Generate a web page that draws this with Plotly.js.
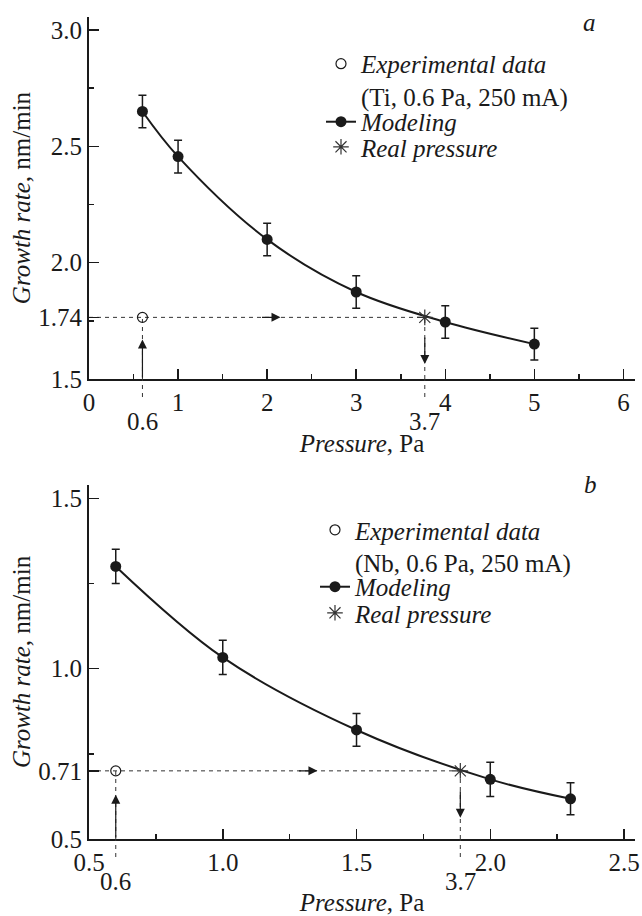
<!DOCTYPE html>
<html>
<head>
<meta charset="utf-8">
<script src="https://cdn.plot.ly/plotly-3.0.1.min.js"></script>
<style>html,body{margin:0;padding:0;background:#fff;}#chart{width:642px;height:916px;}</style>
</head>
<body>
<div id="chart"></div>
<script>
// ---------- Panel a (Ti) ----------
const pressureA = [0.6, 1, 2, 3, 4, 5];
const rateA = [2.65, 2.456, 2.10, 1.874, 1.745, 1.650];
const errA = [0.07, 0.07, 0.07, 0.07, 0.07, 0.068];
const expPressureA = [0.6];
const expRateA = [1.765];
const realPressureA = [3.77];
const realRateA = [1.765];
const yTickValsA = [1.5, 1.765, 2.0, 2.5, 3.0];
const yTickTextA = ['1.5', '1.74', '2.0', '2.5', '3.0'];
const xTickValsA = [0, 1, 2, 3, 4, 5, 6];
const xTickTextA = ['0', '1', '2', '3', '4', '5', '6'];
const markLabelsA = ['0.6', '3.7'];
const arrowTipsA = {up: [0.6, 1.67], right: [2.15, 1.765], down: [3.77, 1.565]};
const legendTextA = ['<i>Experimental data</i><br>(Ti, 0.6 Pa, 250 mA)', '<i>Modeling</i>', '<i>Real pressure</i>'];

// ---------- Panel b (Nb) ----------
const pressureB = [0.6, 1.0, 1.5, 2.0, 2.3];
const rateB = [1.30, 1.033, 0.82, 0.675, 0.618];
const errB = [0.05, 0.05, 0.048, 0.05, 0.047];
const expPressureB = [0.6];
const expRateB = [0.70];
const realPressureB = [1.888];
const realRateB = [0.70];
const yTickValsB = [0.5, 0.70, 1.0, 1.5];
const yTickTextB = ['0.5', '0.71', '1.0', '1.5'];
const xTickValsB = [0.5, 1.0, 1.5, 2.0, 2.5];
const xTickTextB = ['0.5', '1.0', '1.5', '2.0', '2.5'];
const markLabelsB = ['0.6', '3.7'];
const arrowTipsB = {up: [0.6, 0.63], right: [1.354, 0.70], down: [1.888, 0.562]};
const legendTextB = ['<i>Experimental data</i><br>(Nb, 0.6 Pa, 250 mA)', '<i>Modeling</i>', '<i>Real pressure</i>'];

const rangeXA = [0, 6.13], rangeYA = [1.5, 3.056];
const rangeXB = [0.5, 2.541], rangeYB = [0.5, 1.539];

const INK = '#1a1a1a';
const FONT = 'Liberation Serif, Times New Roman, serif';
const FS = 25;

function panelTraces(xs, ys, errs, ex, ey, rx, ry, xa, ya, names, legs) {
  return [
    {x: xs, y: ys, xaxis: xa, yaxis: ya, type: 'scatter', mode: 'lines+markers',
     name: names[1], legend: legs[1],
     line: {color: INK, width: 2, shape: 'spline', smoothing: 1},
     marker: {color: INK, size: 11, symbol: 'circle'},
     error_y: {type: 'data', array: errs, visible: true, color: INK, thickness: 1.5, width: 4}},
    {x: ex, y: ey, xaxis: xa, yaxis: ya, type: 'scatter', mode: 'markers',
     name: names[0], legend: legs[0],
     marker: {color: INK, size: 10, symbol: 'circle-open', line: {color: INK, width: 1.2}}},
    {x: rx, y: ry, xaxis: xa, yaxis: ya, type: 'scatter', mode: 'markers',
     name: names[2], legend: legs[2],
     marker: {color: '#333', size: 13, symbol: 'asterisk-open', line: {color: '#333', width: 1.2}}}
  ];
}

const data = [].concat(
  panelTraces(pressureA, rateA, errA, expPressureA, expRateA, realPressureA, realRateA, 'x', 'y', legendTextA, ['legend', 'legend2', 'legend3']),
  panelTraces(pressureB, rateB, errB, expPressureB, expRateB, realPressureB, realRateB, 'x2', 'y2', legendTextB, ['legend4', 'legend5', 'legend6'])
);

function dashedShapes(xr, yr, yrDom, x0, ex, rx, lvl, ymin) {
  const dash = {color: '#333', width: 1, dash: '4px,4px'};
  return [
    {type: 'line', xref: xr, yref: yr, x0: x0, x1: rx, y0: lvl, y1: lvl, line: dash, layer: 'below'},
    {type: 'line', xref: xr, yref: yr, x0: ex, x1: ex, y0: ymin, y1: lvl, line: dash, layer: 'below'},
    {type: 'line', xref: xr, yref: yr, x0: rx, x1: rx, y0: ymin, y1: lvl, line: dash, layer: 'below'},
    {type: 'line', xref: xr, yref: yrDom, ysizemode: 'pixel', yanchor: 0, x0: ex, x1: ex, y0: -18, y1: 0, line: dash},
    {type: 'line', xref: xr, yref: yrDom, ysizemode: 'pixel', yanchor: 0, x0: rx, x1: rx, y0: -18, y1: 0, line: dash}
  ];
}

const shapes = [].concat(
  dashedShapes('x', 'y', 'y domain', rangeXA[0], expPressureA[0], realPressureA[0], expRateA[0], rangeYA[0]),
  dashedShapes('x2', 'y2', 'y2 domain', rangeXB[0], expPressureB[0], realPressureB[0], expRateB[0], rangeYB[0])
);

function arrowAnns(xr, yr, tips, ymin) {
  const base = {xref: xr, yref: yr, text: '', showarrow: true, arrowhead: 2, arrowsize: 1.5,
                arrowwidth: 1.2, arrowcolor: INK, standoff: 0};
  return [
    Object.assign({}, base, {x: tips.up[0], y: tips.up[1], axref: xr, ayref: yr, ax: tips.up[0], ay: ymin}),
    Object.assign({}, base, {x: tips.right[0], y: tips.right[1], ax: -20, ay: 0}),
    Object.assign({}, base, {x: tips.down[0], y: tips.down[1], ax: 0, ay: -28})
  ];
}

function markLabelAnns(xr, yrDom, xs, labels, shift) {
  return xs.map((xv, i) => ({xref: xr, yref: yrDom, x: xv, y: 0, yshift: shift, text: labels[i],
    showarrow: false, xanchor: 'center', yanchor: 'middle', font: {family: FONT, size: FS, color: INK}}));
}

const annotations = [].concat(
  arrowAnns('x', 'y', arrowTipsA, rangeYA[0]),
  arrowAnns('x2', 'y2', arrowTipsB, rangeYB[0]),
  markLabelAnns('x', 'y domain', [expPressureA[0], realPressureA[0]], markLabelsA, -42),
  markLabelAnns('x2', 'y2 domain', [expPressureB[0], realPressureB[0]], markLabelsB, -42),
  [
    {xref: 'paper', yref: 'paper', x: 0.9158, y: 0.9939, text: '<i>a</i>', showarrow: false,
     xanchor: 'center', yanchor: 'middle', font: {family: FONT, size: FS, color: INK}},
    {xref: 'paper', yref: 'paper', x: 0.919, y: 0.4307, text: '<i>b</i>', showarrow: false,
     xanchor: 'center', yanchor: 'middle', font: {family: FONT, size: FS, color: INK}}
  ]
);

function xAxis(range, tv, tt, minorDtick, anchor, standoff) {
  return {range: range, anchor: anchor, domain: [0, 1], showline: true, linecolor: INK, linewidth: 2,
    zeroline: false, showgrid: false, ticks: 'inside', ticklen: 10, tickwidth: 1.5, tickcolor: INK,
    tickmode: 'array', tickvals: tv, ticktext: tt, tickfont: {family: FONT, size: FS, color: INK},
    minor: {ticks: 'inside', ticklen: 5, tickwidth: 1.5, tickcolor: INK, tickmode: 'linear', tick0: range[0], dtick: minorDtick, showgrid: false},
    title: {text: '<i>Pressure</i>, Pa', font: {family: FONT, size: FS, color: INK}, standoff: standoff}};
}
function yAxis(range, tv, tt, minorDtick, anchor, domain) {
  return {range: range, anchor: anchor, domain: domain, showline: true, linecolor: INK, linewidth: 2,
    zeroline: false, showgrid: false, ticks: 'inside', ticklen: 10, tickwidth: 1.5, tickcolor: INK,
    tickmode: 'array', tickvals: tv, ticktext: tt, tickfont: {family: FONT, size: FS, color: INK},
    minor: {ticks: 'inside', ticklen: 5, tickwidth: 1.5, tickcolor: INK, tickmode: 'linear', tick0: range[0], dtick: minorDtick, showgrid: false},
    title: {text: '<i>Growth rate</i>, nm/min', font: {family: FONT, size: FS, color: INK}, standoff: 0}};
}

function leg(x, y, valign) {
  return {x: x, y: y, xanchor: 'left', yanchor: 'middle', bgcolor: 'rgba(0,0,0,0)', borderwidth: 0,
    valign: valign, itemwidth: 30, font: {family: FONT, size: FS, color: INK}};
}

const layout = {
  width: 642, height: 916,
  margin: {l: 89, r: 7, t: 17, b: 77},
  paper_bgcolor: '#fff', plot_bgcolor: '#fff',
  font: {family: FONT, size: FS, color: INK},
  showlegend: true,
  xaxis: xAxis(rangeXA, xTickValsA, xTickTextA, 0.5, 'y', 19),
  yaxis: yAxis(rangeYA, yTickValsA, yTickTextA, 0.25, 'x', [0.5596, 1]),
  xaxis2: xAxis(rangeXB, xTickValsB, xTickTextB, 0.25, 'y2', 30),
  yaxis2: yAxis(rangeYB, yTickValsB, yTickTextB, 0.25, 'x2', [0, 0.4307]),
  legend: leg(0.4249, 0.9234, 'top'),
  legend2: leg(0.4249, 0.8723, 'middle'),
  legend3: leg(0.4249, 0.8418, 'middle'),
  legend4: leg(0.4139, 0.3564, 'top'),
  legend5: leg(0.4139, 0.3066, 'middle'),
  legend6: leg(0.4139, 0.2749, 'middle'),
  shapes: shapes,
  annotations: annotations
};

Plotly.newPlot('chart', data, layout, {displayModeBar: false, staticPlot: true});
</script>
</body>
</html>
